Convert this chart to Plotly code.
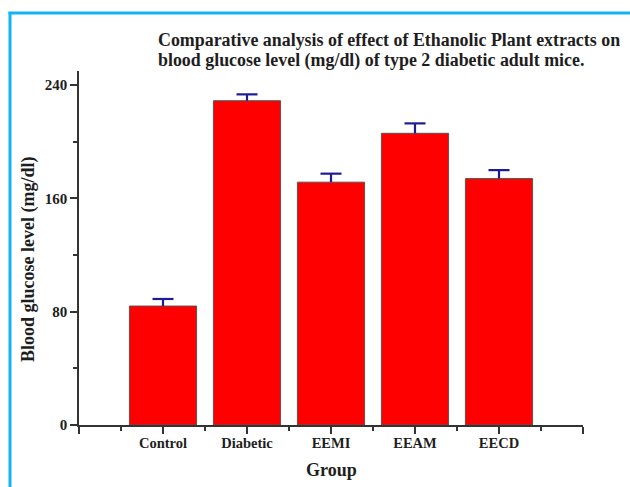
import plotly.graph_objects as go

# Mean blood glucose (mg/dl) per group and upper error (SEM)
groups = ["Control", "Diabetic", "EEMI", "EEAM", "EECD"]
glucose = [84, 229, 171.5, 206, 174]
error = [5, 4.5, 6, 7, 6]

y_ticks = [0, 80, 160, 240]
y_minor = [40, 120, 200]

W, H = 630, 487
ML, MR, MT, MB = 79, 47, 71, 62

pos = list(range(len(groups)))
navy = "#1C1C96"
ink = "#1E1E1E"
serif = "Liberation Serif, Times New Roman, serif"

fig = go.Figure()
fig.add_trace(go.Bar(
    x=pos,
    y=glucose,
    width=0.8,
    marker=dict(color="#FF0000", line=dict(color="#555555", width=1)),
    hoverinfo="y",
))

# Upper-only error bars: stem downward from the cap to the bar top
fig.add_trace(go.Scatter(
    x=pos,
    y=[g + e for g, e in zip(glucose, error)],
    mode="markers",
    marker=dict(symbol="line-ew", size=15, line=dict(color=navy, width=2.2)),
    error_y=dict(type="data", symmetric=False, array=[0] * len(error),
                 arrayminus=error, color=navy, thickness=2.2, width=0),
    hoverinfo="skip",
))

fig.update_layout(
    width=W, height=H,
    margin=dict(l=ML, r=MR, t=MT, b=MB),
    paper_bgcolor="white", plot_bgcolor="white",
    showlegend=False,
    font=dict(family=serif, color=ink),
)

fig.update_xaxes(
    range=[-1, 5],
    automargin=False,
    tickvals=[-1] + pos + [5],
    ticktext=[""] + groups + [""],
    ticks="outside", ticklen=7, tickwidth=1.5, tickcolor="#333333",
    ticklabelstandoff=-3,
    minor=dict(tickvals=[p - 0.5 for p in pos] + [4.5], ticks="outside",
               ticklen=4, tickwidth=1.5, tickcolor="#333333"),
    showline=True, linecolor="#333333", linewidth=1.5,
    showgrid=False, zeroline=False,
    tickfont=dict(family=serif, size=14.5, weight="bold", color=ink),
)

fig.update_yaxes(
    range=[0, 250],
    automargin=False,
    tickvals=y_ticks,
    ticks="outside", ticklen=7, tickwidth=1.5, tickcolor="#333333",
    minor=dict(tickvals=y_minor, ticks="outside", ticklen=4, tickwidth=1.5,
               tickcolor="#333333"),
    showline=True, linecolor="#333333", linewidth=1.5,
    showgrid=False, zeroline=False,
    tickfont=dict(family=serif, size=15, weight="bold", color=ink),
)

pw, ph = W - ML - MR, H - MT - MB
fx = lambda px: (px - ML) / pw
fy = lambda py: (H - MB - py) / ph

# Axis titles
fig.add_annotation(
    xref="paper", yref="paper", x=0.5, y=fy(470),
    xanchor="center", yanchor="middle", showarrow=False, text="Group",
    font=dict(family=serif, size=18, weight="bold", color=ink),
)
fig.add_annotation(
    xref="paper", yref="paper", x=fx(28), y=fy(259), textangle=-90,
    xanchor="center", yanchor="middle", showarrow=False,
    text="Blood glucose level (mg/dl)",
    font=dict(family=serif, size=18, weight="bold", color=ink),
)

# Two-line title, left-aligned over the plot
title_lines = [
    "Comparative analysis of effect of Ethanolic Plant extracts on",
    "blood glucose level (mg/dl) of type 2 diabetic adult mice.",
]
for line, ycenter in zip(title_lines, [40, 61]):
    fig.add_annotation(
        xref="paper", yref="paper", x=fx(156), y=fy(ycenter),
        xanchor="left", yanchor="middle", align="left", showarrow=False,
        text=line,
        font=dict(family=serif, size=17.9, weight="bold", color=ink),
    )

# Light-blue frame on the left and top edges
fig.add_shape(type="line", xref="paper", yref="paper",
              x0=fx(10), x1=fx(10), y0=fy(12), y1=fy(H + 5),
              line=dict(color="#12B3F2", width=3))
fig.add_shape(type="line", xref="paper", yref="paper",
              x0=fx(8.5), x1=fx(W + 5), y0=fy(13), y1=fy(13),
              line=dict(color="#12B3F2", width=3))

fig.write_html("out.html")
